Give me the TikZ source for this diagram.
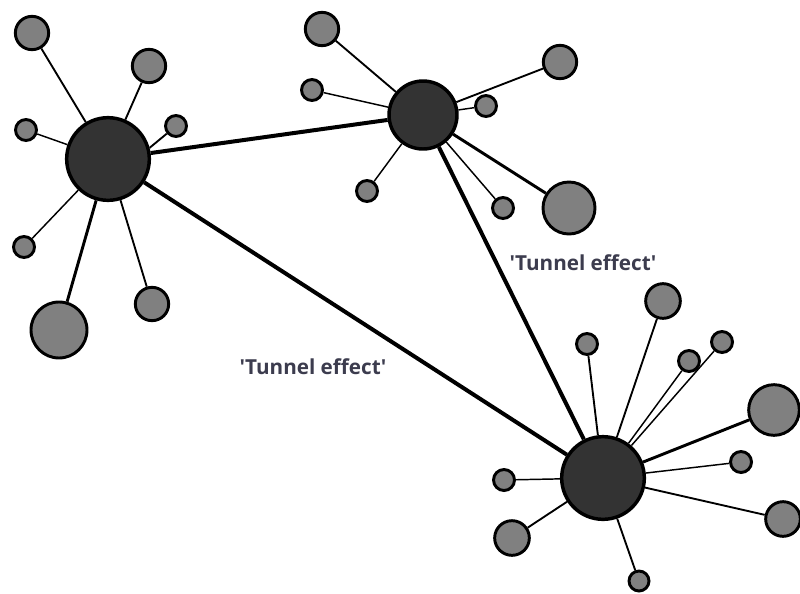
\documentclass[tikz,border=0pt]{standalone}
\usepackage{fontspec}
\setmainfont{Open Sans}
\usepackage{tikz}
\usetikzlibrary{positioning}

\definecolor{hubgray}{HTML}{333333}
\definecolor{satgray}{HTML}{808080}
\definecolor{labelink}{HTML}{3C3C4E}

\tikzset{
  hub/.style={circle, draw, fill=hubgray, line width=2.6pt, inner sep=0pt, minimum size=#1},
  sat/.style={circle, draw, fill=satgray, line width=2.2pt, inner sep=0pt, minimum size=#1},
  spoke/.style={line width=1.4pt},
  thinspoke/.style={line width=1.1pt},
  thickspoke/.style={line width=2.2pt},
  link/.style={line width=3pt},
  tunnel/.style={text=labelink, font=\fontsize{15.5pt}{18pt}\selectfont\bfseries}
}

\begin{document}
\begin{tikzpicture}[x=0.75pt, y=-0.75pt]
\useasboundingbox (0,0) rectangle (800,593);

\node[hub=62pt] (H1) at (108,159) {};
\node[hub=51pt] (H2) at (423,115) {};
\node[hub=62pt] (H3) at (603,478) {};

\node[sat=25pt] (a1) at (32,33) {};
\node[sat=25pt] (a2) at (149,66) {};
\node[sat=15.75pt] (a3) at (26,130) {};
\node[sat=15.75pt] (a4) at (176,126) {};
\node[sat=15.75pt] (a5) at (24,247) {};
\node[sat=42pt] (a6) at (59,330) {};
\node[sat=25pt] (a7) at (152,304) {};

\node[sat=25pt] (b1) at (322,29) {};
\node[sat=15.75pt] (b2) at (312,90) {};
\node[sat=25pt] (b3) at (560,62) {};
\node[sat=15.75pt] (b4) at (486,106) {};
\node[sat=15.75pt] (b5) at (367,191) {};
\node[sat=15.75pt] (b6) at (503,208) {};
\node[sat=39pt] (b7) at (569,208) {};

\node[sat=26pt] (c1) at (663,301) {};
\node[sat=15.75pt] (c2) at (587,344) {};
\node[sat=15.75pt] (c3) at (689,361) {};
\node[sat=15.75pt] (c4) at (722,342) {};
\node[sat=38pt] (c5) at (774,410) {};
\node[sat=15.75pt] (c6) at (741,462) {};
\node[sat=26pt] (c7) at (783,519) {};
\node[sat=15.75pt] (c8) at (504,480) {};
\node[sat=26pt] (c9) at (512,538) {};
\node[sat=15pt] (c10) at (639,581) {};

\draw[link] (H1) -- (H2);
\draw[link] (H1) -- (H3);
\draw[link] (H2) -- (H3);

\draw[spoke] (H1) -- (a1);
\draw[spoke] (H1) -- (a2);
\draw[thinspoke] (H1) -- (a3);
\draw[spoke] (H1.15) -- (a4);
\draw[thinspoke] (H1) -- (a5);
\draw[thickspoke] (H1) -- (a6);
\draw[spoke] (H1) -- (a7);

\draw[spoke] (H2) -- (b1);
\draw[thinspoke] (H2) -- (b2);
\draw[spoke] (H2) -- (b3);
\draw[thinspoke] (H2) -- (b4);
\draw[thinspoke] (H2) -- (b5);
\draw[thinspoke] (H2) -- (b6);
\draw[thickspoke] (H2) -- (b7);

\draw[spoke] (H3) -- (c1);
\draw[spoke] (H3) -- (c2);
\draw[thinspoke] (H3) -- (c3);
\draw[thinspoke] (H3) -- (c4);
\draw[thickspoke] (H3) -- (c5);
\draw[thinspoke] (H3) -- (c6);
\draw[spoke] (H3) -- (c7);
\draw[thinspoke] (H3) -- (c8);
\draw[spoke] (H3) -- (c9);
\draw[spoke] (H3) -- (c10);

\node[tunnel] (t1) at (313,367) {\textquotesingle Tunnel effect\textquotesingle};
\node[tunnel] (t2) at (583,263) {\textquotesingle Tunnel effect\textquotesingle};

\end{tikzpicture}
\end{document}
